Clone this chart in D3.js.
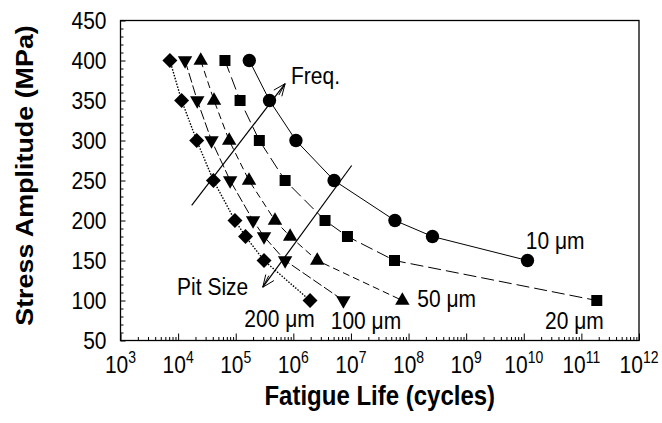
<!DOCTYPE html>
<html>
<head>
<meta charset="utf-8">
<script src="https://cdn.jsdelivr.net/npm/d3@7"></script>
<style>
  html, body { margin: 0; padding: 0; background: #fff; }
  svg { display: block; font-family: Arial, "Liberation Sans", sans-serif; }
</style>
</head>
<body>
<svg id="chart" width="662" height="423"></svg>
<script>
// ---- data ----
const stressLevels = [400, 350, 300, 250, 200, 180, 150, 100];
const life200um = [7.2e3, 1.15e4, 2.1e4, 4.1e4, 9.7e4, 1.48e5, 3.1e5, 1.95e6];
const life100um = [1.32e4, 2.15e4, 3.8e4, 8.0e4, 2.0e5, 3.1e5, 7.2e5, 7.4e6];
const life50um  = [2.47e4, 4.2e4, 7.7e4, 1.7e5, 4.8e5, 8.8e5, 2.6e6, 7.8e7];
const life20um  = [6.5e4, 1.19e5, 2.57e5, 7.2e5, 3.55e6, 8.7e6, 5.7e7, 1.85e11];
const life10um  = [1.72e5, 3.86e5, 1.11e6, 5.1e6, 5.8e7, 2.6e8, 1.16e10];
const seriesNames = ["200 μm", "100 μm", "50 μm", "20 μm", "10 μm"];
const yTicks = [50, 100, 150, 200, 250, 300, 350, 400, 450];
const xTickExponents = [3, 4, 5, 6, 7, 8, 9, 10, 11, 12];
const xTitle = "Fatigue Life (cycles)";
const yTitle = "Stress Amplitude (MPa)";
// annotation anchors in data space
const freqArrow = [[1.72e4, 219], [7.2e5, 371]];
const pitArrow = [[1.03e7, 268.75], [2.95e5, 116.6]];
const annotations = [
  {text: "Freq.", x: 9.1e5, y: 371},
  {text: "Pit Size", x: 9.6e3, y: 107.5},
  {text: "200 μm", x: 1.41e5, y: 66.6},
  {text: "100 μm", x: 4.46e6, y: 65},
  {text: "50 μm", x: 1.42e8, y: 92.5},
  {text: "10 μm", x: 1.08e10, y: 165},
  {text: "20 μm", x: 2.34e10, y: 65}
];

// ---- layout ----
const pL = 120.5, pR = 639, pT = 20.5, pB = 340.5;
const SY = 1.12; // vertical stretch of the text in the original picture
const svg = d3.select("#chart");
const x = d3.scaleLog().domain([1e3, 1e12]).range([pL, pR]);
const y = d3.scaleLinear().domain([50, 450]).range([pB, pT]);

// frame
svg.append("rect").attr("x", pL).attr("y", pT)
  .attr("width", pR - pL).attr("height", pB - pT)
  .attr("fill", "none").attr("stroke", "#000").attr("stroke-width", 1.3);

// y axis ticks (inside)
const yMinor = d3.range(50, 451, 10);
const yAxis = d3.axisRight(y).tickValues(yMinor).tickSize(3).tickFormat("");
svg.append("g").attr("transform", `translate(${pL},0)`).call(yAxis)
  .call(g => g.select(".domain").remove())
  .call(g => g.selectAll("line").attr("stroke", "#000").attr("stroke-width", 1)
    .attr("x2", d => (d % 50 === 0 ? 5 : 3)));
svg.append("g").selectAll("text").data(yTicks).join("text")
  .attr("transform", d => `translate(${pL - 14},${y(d)}) scale(1,${SY})`)
  .attr("dy", "0.36em")
  .attr("text-anchor", "end").attr("font-size", 21).text(d => d);

// x axis ticks (inside)
const xMinor = [];
for (let e = 3; e < 12; e++) for (let m = 1; m < 10; m++) xMinor.push(m * Math.pow(10, e));
xMinor.push(1e12);
const xAxis = d3.axisTop(x).tickValues(xMinor).tickSize(3).tickFormat("");
svg.append("g").attr("transform", `translate(0,${pB})`).call(xAxis)
  .call(g => g.select(".domain").remove())
  .call(g => g.selectAll("line").attr("stroke", "#000").attr("stroke-width", 1)
    .attr("y2", d => (Math.abs(Math.log10(d) - Math.round(Math.log10(d))) < 1e-9 ? -7 : -3.5)));
const xl = svg.append("g").selectAll("text").data(xTickExponents).join("text")
  .attr("transform", d => `translate(${x(Math.pow(10, d))},373) scale(1,${SY})`)
  .attr("text-anchor", "middle").attr("font-size", 21);
xl.append("tspan").text("10");
xl.append("tspan").attr("dy", -9).attr("font-size", 14).text(d => d);

// titles
svg.append("text").attr("transform", `translate(${(pL + pR) / 2},405) scale(1,${SY})`)
  .attr("text-anchor", "middle").attr("font-size", 24).attr("font-weight", "bold").text(xTitle);
svg.append("text").attr("transform", `translate(33,${(pT + pB) / 2 - 5}) rotate(-90) scale(${SY},1)`)
  .attr("text-anchor", "middle").attr("font-size", 24).attr("font-weight", "bold").text(yTitle);

// series
const series = [
  {name: seriesNames[0], life: life200um, dash: "1.5,1.5", shape: d3.symbolSquare, size: 112, rot: 45},
  {name: seriesNames[1], life: life100um, dash: "10,3", shape: d3.symbolTriangle, size: 90, rot: 180},
  {name: seriesNames[2], life: life50um, dash: "7,4", shape: d3.symbolTriangle, size: 90, rot: 0},
  {name: seriesNames[3], life: life20um, dash: "13,5", shape: d3.symbolSquare, size: 121, rot: 0},
  {name: seriesNames[4], life: life10um, dash: null, shape: d3.symbolCircle, size: 140, rot: 0}
];
const line = d3.line().x(d => x(d[0])).y(d => y(d[1]));
series.forEach(s => {
  const pts = s.life.map((v, i) => [v, stressLevels[i]]);
  svg.append("path").datum(pts).attr("d", line).attr("fill", "none")
    .attr("stroke", "#000").attr("stroke-width", s.name === "200 μm" ? 1.4 : 1)
    .attr("stroke-dasharray", s.dash);
  svg.append("g").selectAll("path").data(pts).join("path")
    .attr("d", d3.symbol().type(s.shape).size(s.size))
    .attr("transform", d => `translate(${x(d[0])},${y(d[1])}) rotate(${s.rot})`)
    .attr("fill", "#000");
});

// arrows
function arrow(p0, p1) {
  const x0 = x(p0[0]), y0 = y(p0[1]), x1 = x(p1[0]), y1 = y(p1[1]);
  svg.append("line").attr("x1", x0).attr("y1", y0).attr("x2", x1).attr("y2", y1)
    .attr("stroke", "#000").attr("stroke-width", 1.2);
  const ang = Math.atan2(y1 - y0, x1 - x0);
  const L = 13;
  [-0.4, -0.15, 0.4].forEach(a => {
    svg.append("line").attr("x1", x1).attr("y1", y1)
      .attr("x2", x1 - L * Math.cos(ang + a)).attr("y2", y1 - L * Math.sin(ang + a))
      .attr("stroke", "#000").attr("stroke-width", 1);
  });
}
arrow(freqArrow[0], freqArrow[1]);
arrow(pitArrow[0], pitArrow[1]);

svg.append("g").selectAll("text").data(annotations).join("text")
  .attr("transform", d => `translate(${x(d.x)},${y(d.y)}) scale(1,${SY})`)
  .attr("font-size", 21).text(d => d.text);
</script>
</body>
</html>
